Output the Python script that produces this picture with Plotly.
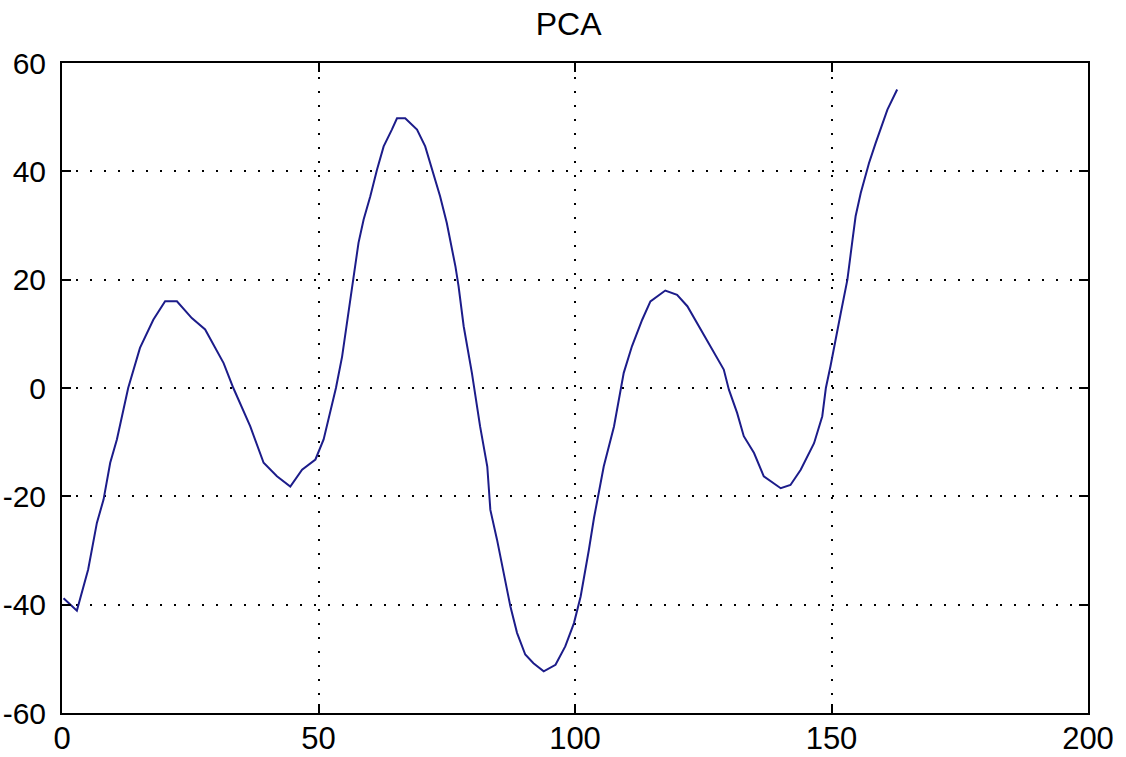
import plotly.graph_objects as go

x_vals = [0.3, 2.9, 5.1, 6.8, 8.1, 9.4, 10.7, 12.9, 15.2, 17.8, 20.1, 22.4, 25.3, 27.9,
          31.5, 33.4, 36.7, 39.3, 41.9, 44.5, 46.8, 49.4, 51.0, 53.4, 54.6, 55.9, 56.8,
          57.8, 58.8, 60.1, 61.4, 62.7, 64.3, 65.3, 66.9, 69.2, 70.8, 72.1, 73.7, 75.0,
          76.7, 77.3, 78.3, 79.9, 81.5, 82.9, 83.5, 84.8, 86.1, 87.4, 88.7, 90.3, 91.9,
          93.9, 96.2, 98.1, 99.8, 101.1, 102.7, 103.7, 105.6, 107.6, 109.5, 111.1, 113.1,
          114.7, 117.6, 119.9, 121.9, 124.5, 127.1, 129.0, 130.0, 131.6, 132.9, 134.9,
          136.8, 140.1, 142.0, 144.0, 146.6, 148.2, 148.9, 149.8, 151.8, 153.1, 154.1,
          154.7, 155.7, 157.3, 158.6, 160.9, 162.8]
y_vals = [-38.8, -41.1, -33.5, -24.9, -20.6, -13.8, -9.5, 0.0, 7.4, 12.6, 16.0, 16.0, 12.9,
          10.8, 4.6, 0.0, -7.1, -13.8, -16.3, -18.2, -15.1, -13.2, -9.5, 0.0, 5.8, 14.5,
          20.0, 26.8, 31.1, 35.4, 40.3, 44.6, 47.7, 49.8, 49.8, 47.7, 44.6, 40.3, 35.4,
          30.5, 22.4, 18.8, 11.4, 2.8, -7.1, -14.5, -22.5, -28.0, -34.2, -40.3, -45.2,
          -49.2, -50.8, -52.3, -51.1, -47.7, -43.4, -38.5, -29.9, -24.0, -14.5, -7.1, 2.8,
          7.7, 12.6, 16.0, 18.0, 17.2, 15.1, 10.8, 6.5, 3.4, -0.3, -4.6, -8.9, -12.0,
          -16.3, -18.5, -17.9, -15.1, -10.2, -5.2, 0.0, 4.0, 13.8, 20.0, 27.4, 31.7,
          36.0, 41.5, 45.2, 51.4, 55.1]

x_ticks = [0, 50, 100, 150, 200]
y_ticks = [-60, -40, -20, 0, 20, 40, 60]
title_text = "PCA"

fig = go.Figure()
fig.add_trace(go.Scatter(x=x_vals, y=y_vals, mode="lines",
                         line=dict(color="#1c1c8a", width=2), showlegend=False))

fam = "Liberation Sans, Arial, sans-serif"
font_title = dict(family=fam, size=32, color="black")
font_x = dict(family=fam, size=31, color="black")
font_y = dict(family=fam, size=30, color="black")
axis_common = dict(showline=True, mirror="allticks", linecolor="black", linewidth=2,
                   ticks="inside", ticklen=9, tickwidth=2, tickcolor="black",
                   showgrid=True, gridcolor="black", gridwidth=2, griddash="2px,12px",
                   zeroline=False, automargin=False)

fig.update_xaxes(range=[0, 200], tickvals=x_ticks, ticktext=[str(v) for v in x_ticks],
                 tickfont=font_x, ticklabelstandoff=-3, **axis_common)
fig.update_yaxes(range=[-60, 60], tickvals=y_ticks, ticktext=[str(v) for v in y_ticks],
                 tickfont=font_y, ticklabelstandoff=8, **axis_common)

fig.update_layout(
    width=1126, height=757,
    margin=dict(l=62, r=38, t=63, b=44, autoexpand=False),
    paper_bgcolor="white", plot_bgcolor="white",
    title=dict(text=title_text, font=font_title, xref="container", x=0.505, xanchor="center",
               yref="container", y=1 - 24 / 757, yanchor="middle", automargin=False),
)

# remove the default 8px page margin so the figure fills the window exactly
fig.write_html("out.html", config={"displayModeBar": False},
               post_script="document.body.style.margin='0';")
